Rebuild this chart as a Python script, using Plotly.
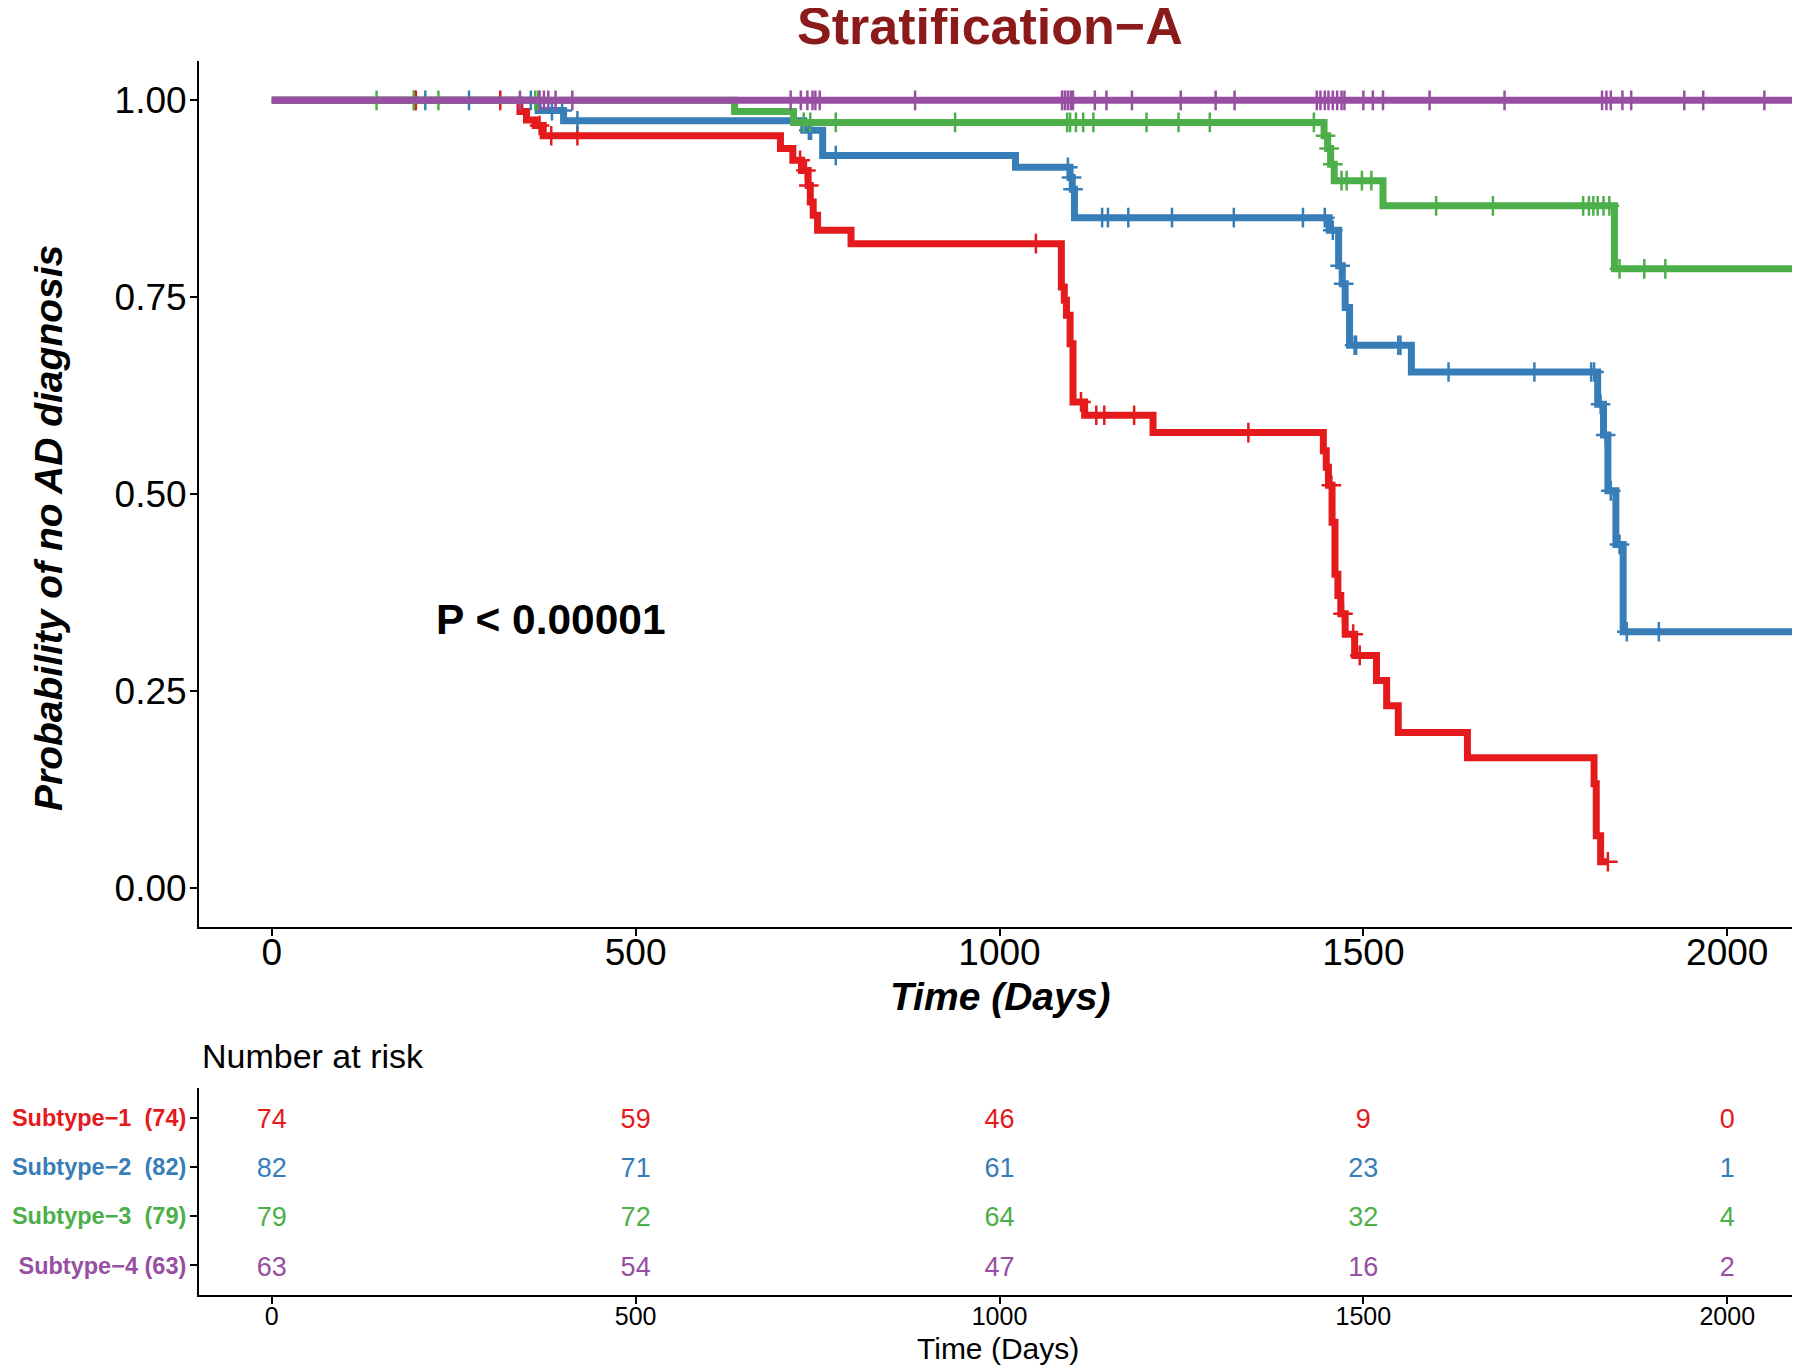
import numpy as np
import plotly.graph_objects as go

# ---------------- data ----------------
groups = ["Subtype\u22121", "Subtype\u22122", "Subtype\u22123", "Subtype\u22124"]
group_n = [74, 82, 79, 63]
colors = ["#E41A1C", "#377EB8", "#4DAF4A", "#984EA3"]

t_s1 = [0, 341, 350, 362, 373, 699, 716, 728, 737, 740, 744, 750, 796, 1085, 1089, 1092, 1097,
        1101, 1117, 1211, 1445, 1449, 1452, 1457, 1461, 1465, 1469, 1475, 1488, 1518, 1532, 1548,
        1643, 1817, 1820, 1826]
s_s1 = [1.0, 0.986, 0.975, 0.968, 0.955, 0.939, 0.924, 0.911, 0.892, 0.871, 0.854, 0.835, 0.818,
        0.763, 0.746, 0.727, 0.691, 0.617, 0.600, 0.578, 0.555, 0.534, 0.511, 0.464, 0.398, 0.371,
        0.348, 0.322, 0.295, 0.263, 0.231, 0.197, 0.165, 0.132, 0.066, 0.033]
c_s1 = [196, 198, 314, 368, 384, 420, 726, 734, 738, 1050, 1112, 1133, 1144, 1185, 1342, 1456,
        1472, 1486, 1495, 1836]

t_s2 = [0, 366, 401, 731, 757, 1022, 1097, 1100, 1103, 1453, 1466, 1471, 1475, 1481, 1566, 1822,
        1830, 1836, 1847, 1857]
s_s2 = [1.0, 0.987, 0.974, 0.962, 0.930, 0.915, 0.902, 0.887, 0.851, 0.835, 0.790, 0.767, 0.737,
        0.689, 0.655, 0.614, 0.575, 0.504, 0.436, 0.325]
c_s2 = [211, 271, 356, 385, 399, 420, 738, 741, 775, 1094, 1099, 1101, 1141, 1149, 1177, 1237,
        1322, 1417, 1447, 1458, 1468, 1473, 1488, 1490, 1548, 1551, 1617, 1735, 1813, 1817, 1826,
        1833, 1840, 1852, 1862, 1906]

t_s3 = [0, 636, 717, 1446, 1451, 1455, 1460, 1527, 1845]
s_s3 = [1.0, 0.986, 0.972, 0.955, 0.939, 0.919, 0.898, 0.866, 0.786]
c_s3 = [144, 195, 229, 362, 366, 731, 740, 775, 939, 1093, 1097, 1105, 1115, 1129, 1202, 1246,
        1289, 1432, 1448, 1453, 1458, 1470, 1477, 1498, 1511, 1600, 1678, 1802, 1810, 1816, 1822,
        1830, 1838, 1852, 1886, 1915]

t_s4 = [0]
s_s4 = [1.0]
c_s4 = [341, 368, 374, 380, 390, 413, 713, 727, 736, 743, 747, 753, 884, 1086, 1090, 1094, 1098,
        1101, 1131, 1147, 1182, 1249, 1297, 1323, 1436, 1441, 1447, 1452, 1458, 1464, 1470, 1474,
        1500, 1513, 1527, 1591, 1694, 1828, 1834, 1840, 1856, 1868, 1941, 1967, 2051]

last_followup = [1836, 2130, 2130, 2130]

risk_times = [0, 500, 1000, 1500, 2000]
risk_s1 = [74, 59, 46, 9, 0]
risk_s2 = [82, 71, 61, 23, 1]
risk_s3 = [79, 72, 64, 32, 4]
risk_s4 = [63, 54, 47, 16, 2]

x_ticks = [0, 500, 1000, 1500, 2000]
y_ticks = [0, 0.25, 0.5, 0.75, 1.0]

FONT = "Liberation Sans, Arial, Helvetica, sans-serif"

times = [t_s1, t_s2, t_s3, t_s4]
survs = [s_s1, s_s2, s_s3, s_s4]
cens = [c_s1, c_s2, c_s3, c_s4]
risks = [risk_s1, risk_s2, risk_s3, risk_s4]

fig = go.Figure()

for i in range(4):
    t = np.array(times[i], dtype=float)
    s = np.array(survs[i], dtype=float)
    xs = np.append(t, last_followup[i])
    ys = np.append(s, s[-1])
    fig.add_trace(go.Scatter(x=xs, y=ys, mode="lines", line=dict(color=colors[i], width=7, shape="hv"),
                             xaxis="x", yaxis="y", showlegend=False, hoverinfo="skip"))
    c = np.array(cens[i], dtype=float)
    idx = np.searchsorted(t, c, side="right") - 1
    fig.add_trace(go.Scatter(x=c, y=s[idx], mode="markers",
                             marker=dict(symbol="cross-thin", size=14, line=dict(color=colors[i], width=2.5)),
                             xaxis="x", yaxis="y", showlegend=False, hoverinfo="skip"))

# risk table (small downward nudge so glyphs sit centred on the rows)
TEXT_NUDGE = 0.07
for i in range(4):
    fig.add_trace(go.Scatter(x=risk_times, y=[4 - i - TEXT_NUDGE] * len(risk_times), mode="text",
                             text=[str(v) for v in risks[i]],
                             textfont=dict(family=FONT, size=27, color=colors[i]),
                             textposition="middle center",
                             xaxis="x2", yaxis="y2", showlegend=False, hoverinfo="skip"))

sep = ["\u00a0 ", "\u00a0 ", "\u00a0 ", " "]
ticktext = [f"<span style='color:{colors[i]}'><b>{groups[i]}{sep[i]}({group_n[i]})</b></span>" for i in range(4)]

axis_common = dict(showline=True, linecolor="black", linewidth=2, ticks="outside", ticklen=7,
                   tickwidth=2, tickcolor="black", showgrid=False, zeroline=False, mirror=False,
                   automargin=False)

# page body has an 8px margin; compensate so the figure lands on the reference pixels
OFF = 8
fig.update_layout(
    width=1800 - OFF, height=1368 - OFF,
    paper_bgcolor="white", plot_bgcolor="white",
    margin=dict(l=199 - OFF, r=0, t=61 - OFF, b=73, autoexpand=False),
    font=dict(family=FONT, color="black"),
    xaxis=dict(domain=[0, 1], range=[-100, 2100], tickvals=x_ticks, anchor="y", ticklabelstandoff=-15,
               tickfont=dict(size=37, family=FONT, color="black"), **axis_common),
    yaxis=dict(domain=[0.2982, 1], range=[-0.05, 1.05], tickvals=y_ticks, tickformat=".2f", anchor="x",
               ticklabelstandoff=-4,
               tickfont=dict(size=37, family=FONT, color="black"), **axis_common),
    xaxis2=dict(domain=[0, 1], range=[-100, 2100], tickvals=x_ticks, anchor="y2", ticklabelstandoff=-9,
                tickfont=dict(size=25, family=FONT, color="black"), **axis_common),
    yaxis2=dict(domain=[0, 0.1677], range=[0.4, 4.6], tickvals=[4, 3, 2, 1], ticktext=ticktext,
                anchor="x2", ticklabelstandoff=-1, tickfont=dict(size=23.5, family=FONT), **axis_common),
)

def px(xp):
    return (xp - 199) / 1601

def py(yp):
    return (1295 - yp) / 1234

annotations = [
    dict(text="<b>Stratification\u2212A</b>", x=px(990), y=py(26), xref="paper", yref="paper",
         showarrow=False, font=dict(size=52, color="#8B1A1A", family=FONT), xanchor="center", yanchor="middle"),
    dict(text="<b><i>Time (Days)</i></b>", x=px(1000), y=py(996), xref="paper", yref="paper",
         showarrow=False, font=dict(size=39, color="black", family=FONT), xanchor="center", yanchor="middle"),
    dict(text="<b><i>Probability of no AD diagnosis</i></b>", x=px(48), y=py(528), xref="paper", yref="paper",
         showarrow=False, textangle=-90, font=dict(size=39, color="black", family=FONT),
         xanchor="center", yanchor="middle"),
    dict(text="<b>P < 0.00001</b>", x=384, y=0.34, xref="x", yref="y", showarrow=False,
         font=dict(size=42.5, color="black", family=FONT), xanchor="center", yanchor="middle"),
    dict(text="Number at risk", x=px(200), y=py(1056), xref="paper", yref="paper", showarrow=False,
         font=dict(size=34, color="black", family=FONT), xanchor="left", yanchor="middle"),
    dict(text="Time (Days)", x=px(998), y=py(1348), xref="paper", yref="paper", showarrow=False,
         font=dict(size=30, color="black", family=FONT), xanchor="center", yanchor="middle"),
]
fig.update_layout(annotations=annotations)

fig.write_html("out.html")
